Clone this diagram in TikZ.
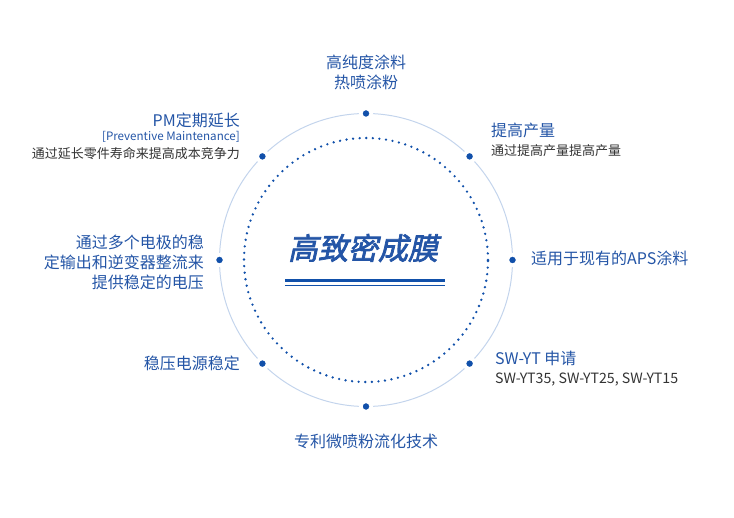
\documentclass[tikz,border=0pt]{standalone}
\usepackage{fontspec}
\setmainfont{Noto Sans CJK SC}
\newfontfamily\titlefont[FakeSlant=0.22,FakeBold=2.5]{Noto Sans CJK SC}
\usepackage{xcolor}
\usepackage{tikz}
\usetikzlibrary{positioning}
\definecolor{inkblue}{HTML}{2455A6}
\definecolor{dotblue}{HTML}{1150AA}
\definecolor{ringline}{HTML}{C3D4EC}
\definecolor{inkgrey}{HTML}{333333}

\begin{document}
\begin{tikzpicture}[x=1pt,y=-1pt,
  dot/.style={circle,fill=dotblue,draw=white,line width=3.5pt,minimum size=10.5pt,inner sep=0pt},
  big/.style={text=inkblue,font=\fontsize{16}{20}\selectfont,inner sep=0pt},
  small/.style={text=inkgrey,font=\fontsize{13}{16}\selectfont,inner sep=0pt}]
  \useasboundingbox (0,0) rectangle (734,518);
  \coordinate (c) at (366,260);
  % rings
  \draw[ringline,line width=1pt] (c) circle[radius=146.5pt];
  \draw[dotblue,line width=2.6pt,line cap=round,dash pattern=on 0pt off 6.6pt] (c) circle[radius=122pt];
  \foreach \i in {0,...,7}{\node[dot] (d\i) at ([shift={(\i*45:146.5pt)}]c) {};}
  % centre title
  \node[text=inkblue,inner sep=0pt,font=\titlefont\fontsize{30}{34}\selectfont] (title) at (363,248) {高致密成膜};
  \coordinate (ul) at (285,281);
  \coordinate (ur) at (445,281);
  \draw[dotblue,line width=3pt] (ul) -- (ur);
  \draw[dotblue,line width=1.2pt] ([yshift=-4.5pt]ul) -- ([yshift=-4.5pt]ur);
  % labels round the ring
  \node[big,align=center] (coat) at (366,72) {高纯度涂料\\热喷涂粉};
  \node[big,anchor=east] (pm) at (240,120) {PM定期延长};
  \node[text=inkblue,inner sep=0pt,font=\fontsize{11.6}{13}\selectfont,anchor=east] (pmen) at (240,137) {[Preventive Maintenance]};
  \node[small,anchor=east] (pmtxt) at (240,154) {通过延长零件寿命来提高成本竞争力};
  \node[big,anchor=west] (yield) at (491,130) {提高产量};
  \node[small,anchor=west] (yieldtxt) at (491,151) {通过提高产量提高产量};
  \node[big,anchor=west] (aps) at (531,258) {适用于现有的APS涂料};
  \node[big,anchor=west] (sw) at (495,358) {SW-YT 申请};
  \node[small,anchor=west,font=\fontsize{14.2}{16}\selectfont] (swtxt) at (495,380) {SW-YT35, SW-YT25, SW-YT15};
  \node[big] (tech) at (366,441) {专利微喷粉流化技术};
  \node[big,anchor=east] (power) at (240,363) {稳压电源稳定};
  \node[big,align=right,anchor=east] (volt) at (204,262) {通过多个电极的稳\\定输出和逆变器整流来\\提供稳定的电压};
\end{tikzpicture}
\end{document}
